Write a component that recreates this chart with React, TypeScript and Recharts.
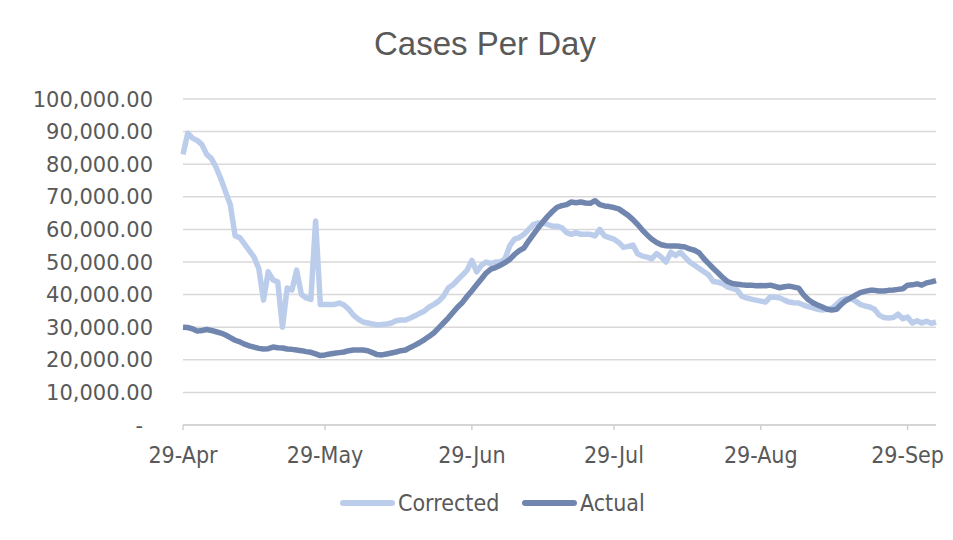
import { LineChart, Line, XAxis, YAxis, CartesianGrid } from 'recharts'

// day offsets from 29-Apr, and their labels
const TICK_DAYS = [0, 30, 61, 91, 122, 153]
const TICK_LABELS = ['29-Apr', '29-May', '29-Jun', '29-Jul', '29-Aug', '29-Sep']
const Y_TICKS = [0, 10000, 20000, 30000, 40000, 50000, 60000, 70000, 80000, 90000, 100000]

const CORRECTED = [
  83000, 89500, 88000, 87300, 86000, 83000, 81700, 79000, 75500, 71500,
  67500, 58000, 57500, 55500, 53500, 51500, 48000, 38300, 47000, 44500,
  43900, 30000, 42000, 41400, 47500, 40000, 39000, 38500, 62600, 37000,
  37000, 37000, 37000, 37400, 36800, 35500, 33700, 32500, 31600, 31300,
  31000, 30700, 30800, 31000, 31300, 32000, 32200, 32200, 32800, 33500,
  34300, 35000, 36200, 37000, 38000, 39500, 42000, 43000, 44500, 46000,
  47500, 50500, 47000, 49000, 50000, 49500, 50000, 50000, 51000, 55000,
  57000, 57500, 58500, 60000, 61500, 62000, 62000, 61500, 61000, 61000,
  60500, 59000, 58500, 59000, 58500, 58500, 58500, 58000, 60000, 58000,
  57500, 57000, 56000, 54500, 54800, 55200, 52500, 51800, 51500, 51000,
  52600, 51500, 50000, 53000, 52000, 53000, 51500, 50000, 49000, 48000,
  47000, 46000, 44000, 43800, 43300, 42300, 41900, 41400, 39500, 39000,
  38600, 38300, 38000, 37700, 39300, 39200, 39000, 38300, 37700, 37500,
  37400, 36800, 36300, 35900, 35500, 35300, 35500, 35800, 37000, 38300,
  38800, 38800, 38000, 37000, 36500, 36200, 35500, 33700, 33000, 32800,
  33000, 34000, 32600, 33100, 31300, 32000, 31300, 31800, 31200, 31600,
]

const ACTUAL = [
  30000, 29900, 29500, 28800, 29000, 29300, 29000, 28600, 28200, 27600,
  26800, 26000, 25500, 24800, 24300, 23900, 23500, 23300, 23400, 23900,
  23700, 23600, 23300, 23200, 23000, 22800, 22500, 22300, 21800, 21300,
  21500, 21800, 22000, 22200, 22400, 22800, 23000, 23000, 23000, 22800,
  22200, 21600, 21500, 21800, 22100, 22400, 22800, 23000, 23800, 24500,
  25300, 26200, 27200, 28300, 29800, 31300, 32800, 34500, 36200, 37600,
  39500, 41200, 43000, 44800, 46600, 47800, 48300, 49000, 49800, 50800,
  52300, 53500, 54300, 56500, 58500, 60500, 62300, 64000, 65500, 66800,
  67300, 67600, 68400, 68200, 68400, 68100, 68000, 68800, 67600, 67200,
  67000, 66700, 66300, 65300, 64300, 63000, 61500, 59800, 58300, 57000,
  56000, 55300, 55000, 54900, 54900, 54800, 54600, 54000, 53600, 52800,
  51000, 49500, 48000, 46600, 45200, 44000, 43400, 43200, 43000, 42900,
  42900, 42700, 42800, 42700, 42900, 42500, 42100, 42400, 42600, 42300,
  42000, 40000, 38500, 37500, 36800, 36200, 35500, 35300, 35500, 37000,
  38200, 39000, 39800, 40600, 41000, 41300, 41300, 41100, 41100, 41300,
  41400, 41600, 41800, 42900, 43000, 43300, 42900, 43600, 43900, 44300,
]

const LIGHT = '#bccdeb'
const DARK = '#7186ae'
const TEXT = '#595959'
const NARROW = "'Liberation Sans Narrow', 'DejaVu Sans Condensed', sans-serif"

const data = CORRECTED.map((c, i) => ({ day: i, corrected: c, actual: ACTUAL[i] }))

const fmtY = (v: number) =>
  v === 0 ? '-' : v.toLocaleString('en-US', { minimumFractionDigits: 2, maximumFractionDigits: 2 })

const YTick = ({ y, payload }: any) => (
  <text
    x={payload.value === 0 ? 135 : 145}
    y={y}
    dy="0.36em"
    textAnchor="end"
    fill={TEXT}
    fontSize={21}
    fontFamily="'DejaVu Sans', sans-serif"
  >
    {fmtY(payload.value)}
  </text>
)

const XTick = ({ x, payload }: any) => (
  <text x={x} y={455} textAnchor="middle" fill={TEXT} fontSize={23} fontFamily={NARROW}>
    {TICK_LABELS[TICK_DAYS.indexOf(payload.value)]}
  </text>
)

const LegendItem = ({ color, label, left }: { color: string; label: string; left: number }) => (
  <div style={{ position: 'absolute', left, top: 482, display: 'flex', alignItems: 'center' }}>
    <span style={{ width: 55, height: 6, borderRadius: 3, background: color, marginRight: 3 }} />
    <span style={{ fontFamily: NARROW, fontSize: 23, color: TEXT, lineHeight: '26px' }}>{label}</span>
  </div>
)

export default function App() {
  return (
    <div style={{ position: 'relative', width: 945, height: 530 }}>
      <div
        style={{
          position: 'absolute',
          left: -1,
          top: -8,
          width: 0,
          height: 540,
          borderLeft: '1px solid #d9d9d9',
        }}
      />
      <div
        style={{
          position: 'absolute',
          left: 0,
          top: 17,
          width: 954,
          textAlign: 'center',
          fontFamily: "'Liberation Sans', sans-serif",
          fontSize: 33,
          lineHeight: '38px',
          color: TEXT,
        }}
      >
        Cases Per Day
      </div>
      <LineChart width={945} height={530} data={data} margin={{ top: 91, right: 17, left: 0, bottom: 83 }}>
        <CartesianGrid vertical={false} stroke="#d9d9d9" strokeWidth={1.5} />
        <XAxis
          dataKey="day"
          type="number"
          domain={[0, 159]}
          ticks={TICK_DAYS}
          interval={0}
          stroke="#d0d0d0"
          strokeWidth={1.5}
          tickSize={5}
          height={30}
          tick={<XTick />}
        />
        <YAxis
          domain={[0, 100000]}
          ticks={Y_TICKS}
          interval={0}
          width={175}
          axisLine={false}
          tickLine={false}
          tick={<YTick />}
        />
        <Line
          type="linear"
          dataKey="corrected"
          stroke={LIGHT}
          strokeWidth={5.5}
          strokeLinejoin="round"
          dot={false}
          isAnimationActive={false}
        />
        <Line
          type="linear"
          dataKey="actual"
          stroke={DARK}
          strokeWidth={5.5}
          strokeLinejoin="round"
          dot={false}
          isAnimationActive={false}
        />
      </LineChart>
      <LegendItem color={LIGHT} label="Corrected" left={332} />
      <LegendItem color={DARK} label="Actual" left={514} />
    </div>
  )
}
